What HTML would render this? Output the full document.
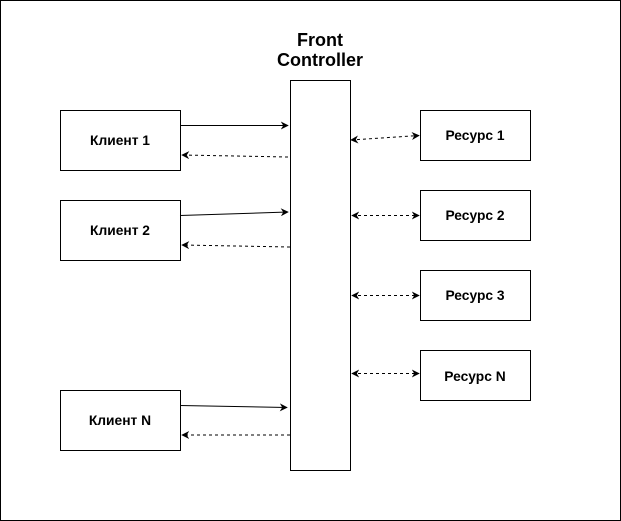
<!DOCTYPE html>
<html><head><style>body{margin:0;background:#fff}svg{display:block}text{font-family:"Liberation Sans",sans-serif;font-weight:bold;fill:#000}</style></head><body>
<svg width="621" height="521" viewBox="0 0 621 521" xmlns="http://www.w3.org/2000/svg">
<defs><marker id="a" viewBox="0 0 10 10" refX="9" refY="5" markerWidth="8" markerHeight="8" orient="auto-start-reverse" markerUnits="userSpaceOnUse"><path d="M0,0 L10,5 L0,10 L3,5 Z" fill="#000"/></marker></defs>
<rect x="0.5" y="0.5" width="620" height="520" fill="#fff" stroke="#000"/>
<g fill="#fff" stroke="#000">
<rect x="60.5" y="110.5" width="120" height="60"/>
<rect x="60.5" y="200.5" width="120" height="60"/>
<rect x="60.5" y="390.5" width="120" height="60"/>
<rect x="290.5" y="80.5" width="60" height="390"/>
<rect x="420.5" y="110.5" width="110" height="50"/>
<rect x="420.5" y="190.5" width="110" height="50"/>
<rect x="420.5" y="270.5" width="110" height="50"/>
<rect x="420.5" y="350.5" width="110" height="50"/>
</g>
<g font-size="13.8" text-anchor="middle">
<text x="120" y="145">Клиент 1</text>
<text x="120" y="235">Клиент 2</text>
<text x="120" y="425">Клиент N</text>
<text x="475" y="140">Ресурс 1</text>
<text x="475" y="220">Ресурс 2</text>
<text x="475" y="300">Ресурс 3</text>
<text x="475" y="381">Ресурс N</text>
</g>
<text x="320" y="46" font-size="18" text-anchor="middle">Front</text>
<text x="320" y="66" font-size="18" text-anchor="middle">Controller</text>
<g stroke="#000" fill="none">
<line x1="180" y1="125.5" x2="288" y2="125.5" marker-end="url(#a)"/>
<line x1="180" y1="215.5" x2="288" y2="212" marker-end="url(#a)"/>
<line x1="180" y1="405.5" x2="287" y2="407.5" marker-end="url(#a)"/>
<g stroke-dasharray="3,3">
<line x1="288" y1="157" x2="182" y2="155" marker-end="url(#a)"/>
<line x1="290" y1="247" x2="182" y2="245" marker-end="url(#a)"/>
<line x1="290" y1="435" x2="182" y2="435" marker-end="url(#a)"/>
<line x1="351" y1="140" x2="419" y2="135.5" marker-start="url(#a)" marker-end="url(#a)"/>
<line x1="352" y1="215.5" x2="419" y2="215.5" marker-start="url(#a)" marker-end="url(#a)"/>
<line x1="352" y1="295.5" x2="419" y2="295.5" marker-start="url(#a)" marker-end="url(#a)"/>
<line x1="352" y1="373.5" x2="419" y2="373.5" marker-start="url(#a)" marker-end="url(#a)"/>
</g></g>
</svg>
</body></html>
